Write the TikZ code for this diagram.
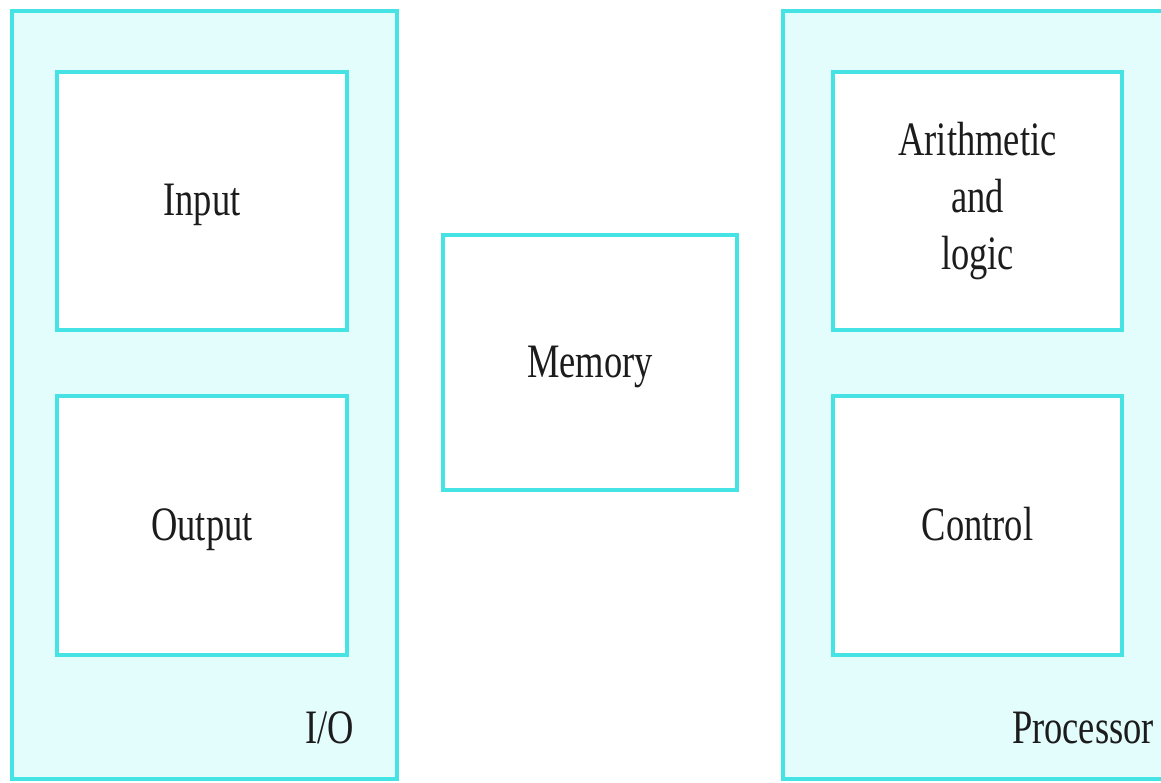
\documentclass[tikz,border=0pt]{standalone}
\usepackage{fontspec}
\usepackage{graphicx}
\setmainfont{Liberation Serif}
\definecolor{edge}{HTML}{45E3E3}
\definecolor{panel}{HTML}{E3FCFC}
\definecolor{ink}{HTML}{1C1C1C}
% narrow labels: the type is set condensed
\newcommand{\narrow}[1]{\scalebox{0.76}[1]{#1}}
\newcommand{\lbl}[1]{\narrow{\begin{tabular}{@{}c@{}}#1\end{tabular}}}
\begin{document}
\begin{tikzpicture}[x=1pt,y=-1pt,
  panelbox/.style={draw=edge,fill=panel,line width=3.5pt},
  unitbox/.style={draw=edge,fill=white,line width=3.5pt,rectangle,inner sep=0pt,
    text=ink,font=\fontsize{48}{57}\selectfont},
  oneline/.style={text height=35pt,text depth=6pt},
  tag/.style={text=ink,font=\fontsize{48}{57}\selectfont,anchor=base,inner sep=0pt}]
  \useasboundingbox (0,0) rectangle (1161,783);
  \clip (0,0) rectangle (1161,783);
  \fill[white] (0,0) rectangle (1161,783);
  % the two enclosing units
  \draw[panelbox] (12,11) rectangle (397,779);
  \draw[panelbox] (783,11) rectangle (1180,779);
  % I/O unit
  \node[unitbox,oneline,minimum width=290pt,minimum height=258pt] (input) at (202,201) {\narrow{Input}};
  \node[unitbox,oneline,minimum width=290pt,minimum height=259pt] (output) at (202,525.5) {\narrow{Output}};
  \node[tag] (io) at (330,743) {\narrow{I/O}};
  % memory
  \node[unitbox,oneline,minimum width=294pt,minimum height=255pt] (memory) at (590,362.5) {\narrow{Memory}};
  % processor
  \node[unitbox,minimum width=289pt,minimum height=258pt] (alu) at (977.5,201) {\lbl{Arithmetic\\and\\logic}};
  \node[unitbox,oneline,minimum width=289pt,minimum height=259pt] (control) at (977.5,525.5) {\narrow{Control}};
  \node[tag] (proc) at (1083,743) {\narrow{Processor}};
\end{tikzpicture}
\end{document}
